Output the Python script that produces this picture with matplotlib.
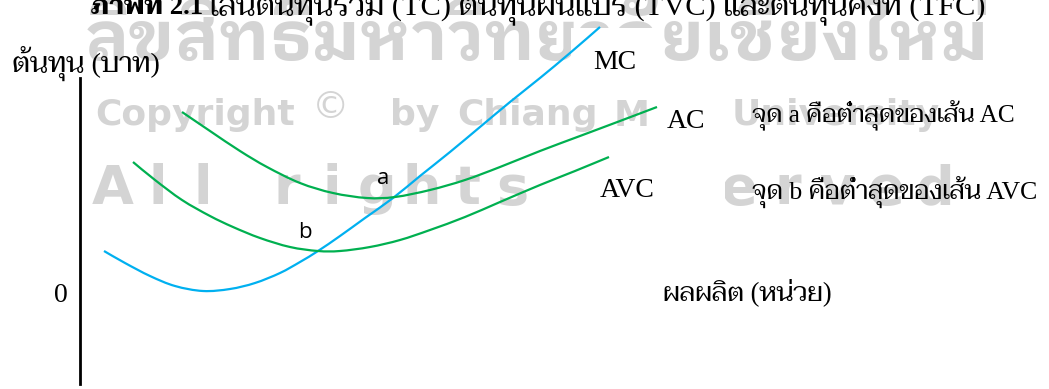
import matplotlib
matplotlib.use("Agg")
import matplotlib.pyplot as plt
from matplotlib.path import Path
from matplotlib.patches import PathPatch, Rectangle

W, H = 1049, 389

# curve readings: output quantity vs cost
mc_q = [0.48, 0.90, 1.40, 1.90, 2.46, 3.00, 3.50, 4.00, 4.40, 4.76, 5.20, 5.70,
        6.26, 6.80, 7.40, 8.00, 8.60, 9.20, 9.80, 10.40]
mc_c = [0.82, 0.58, 0.32, 0.12, 0.02, 0.06, 0.18, 0.38, 0.60, 0.82, 1.12, 1.48,
        1.88, 2.32, 2.80, 3.30, 3.80, 4.28, 4.78, 5.30]

ac_q = [2.04, 2.60, 3.20, 3.74, 4.40, 5.06, 5.74, 6.30, 7.00, 7.70, 8.40, 9.20,
        10.00, 10.80, 11.54]
ac_c = [3.60, 3.22, 2.82, 2.50, 2.18, 1.98, 1.88, 1.90, 2.04, 2.24, 2.50, 2.82,
        3.12, 3.42, 3.70]

avc_q = [1.06, 1.50, 2.04, 2.60, 3.06, 3.60, 4.20, 4.76, 5.20, 5.80, 6.40, 7.00,
         7.70, 8.40, 9.20, 9.90, 10.58]
avc_c = [2.60, 2.24, 1.84, 1.52, 1.30, 1.08, 0.90, 0.82, 0.82, 0.90, 1.04, 1.24,
         1.50, 1.80, 2.14, 2.42, 2.70]

# point a = minimum of AC, point b = minimum of AVC (where MC crosses them)
pt_a = (6.26, 1.88)
pt_b = (4.76, 0.82)

curve_names = ["MC", "AC", "AVC"]
notes = ["จุด a คือต่ำสุดของเส้น AC", "จุด b คือต่ำสุดของเส้น AVC"]
y_title = "ต้นทุน (บาท)"
x_title = "ผลผลิต (หน่วย)"
caption_head = "ภาพที่ 2.1"
caption_body = "เส้นต้นทุนรวม (TC) ต้นทุนผันแปร (TVC) และต้นทุนคงที่ (TFC)"
wm_thai = "ลิขสิทธิ์มหาวิทยาลัยเชียงใหม่"
wm_words = ["Copyright", "©", "by", "Chiang", "Mai", "University"]
wm_rights = ["All", "rights", "reserved"]

serif = ["Liberation Serif", "Taviraj", "Trirong", "DejaVu Serif"]
blue = "#00b0f0"
green = "#00b050"
wm_grey = "#d4d4d4"

fig = plt.figure(figsize=(W / 100, H / 100), dpi=100)
fig.patch.set_facecolor("white")


def fx(px):
    return px / W


def fy(py):
    return 1 - py / H


def fit_width(t, target):
    r = fig.canvas.get_renderer()
    w = t.get_window_extent(r).width
    t.set_fontsize(t.get_fontsize() * target / w)


def smooth_path(xs, ys):
    # Catmull-Rom through the read points, drawn as cubic Bezier pieces
    pts = list(zip(xs, ys))
    verts = [pts[0]]
    codes = [Path.MOVETO]
    n = len(pts)
    for i in range(n - 1):
        p0 = pts[max(i - 1, 0)]
        p1 = pts[i]
        p2 = pts[i + 1]
        p3 = pts[min(i + 2, n - 1)]
        c1 = (p1[0] + (p2[0] - p0[0]) / 6, p1[1] + (p2[1] - p0[1]) / 6)
        c2 = (p2[0] - (p3[0] - p1[0]) / 6, p2[1] - (p3[1] - p1[1]) / 6)
        verts += [c1, c2, p2]
        codes += [Path.CURVE4] * 3
    return Path(verts, codes)


# watermark behind everything
wm1 = fig.text(fx(85), fy(60), wm_thai,
               family=["IBM Plex Sans Thai Looped", "Sarabun", "DejaVu Sans"],
               weight="bold", fontsize=40, color=wm_grey, zorder=-5)
fit_width(wm1, 905)

word_x = [95, 312, 390, 457, 614, 732]
for word, x in zip(wm_words, word_x):
    if word == "©":
        fig.text(fx(x), fy(118), word, family="DejaVu Sans", fontsize=27,
                 color=wm_grey, zorder=-5)
    else:
        fig.text(fx(x), fy(125), word, family="DejaVu Sans", weight="bold",
                 fontsize=26, color=wm_grey, zorder=-5)

letter_start = [113, 287, 592]
letter_step = [45, 45, 49]
for word, x0, step in zip(wm_rights, letter_start, letter_step):
    for k, ch in enumerate(word):
        fig.text(fx(x0 + k * step), fy(204), ch, family="DejaVu Sans",
                 weight="bold", fontsize=39, color=wm_grey, ha="center",
                 zorder=-5)

# caption line, mostly cut off by the top edge
cap1 = fig.text(fx(91), fy(14), caption_head, family=serif, weight="bold",
                fontsize=20, color="black")
cap2 = fig.text(fx(210), fy(14), caption_body, family=serif, fontsize=20,
                color="black")
fit_width(cap1, 112)
fit_width(cap2, 776)

ax = fig.add_axes([fx(80), 0, 1 - fx(80), 1])
ax.set_xlim(0, (W - 80) / 50)
ax.set_ylim(-(H - 292) / 50, 292 / 50)
ax.patch.set_alpha(0)
for side in ["top", "right", "bottom"]:
    ax.spines[side].set_visible(False)
ax.spines["left"].set_linewidth(2)
ax.spines["left"].set_bounds(-(384 - 292) / 50, (292 - 78) / 50)
ax.set_xticks([])
ax.set_yticks([0])
ax.set_yticklabels(["0"], family=serif, fontsize=20)
ax.tick_params(axis="y", length=0, pad=9)

for xs, ys, col in [(mc_q, mc_c, blue), (ac_q, ac_c, green), (avc_q, avc_c, green)]:
    ax.add_patch(PathPatch(smooth_path(xs, ys), fill=False, edgecolor=col,
                           lw=1.6, capstyle="butt", clip_on=False, zorder=3))

# white label boxes sit over the watermark but under the curves
ax.text(10.70, 4.58, curve_names[0], family=serif, fontsize=20, zorder=2,
        ha="center", va="center",
        bbox=dict(boxstyle="square,pad=0.8", facecolor="white", edgecolor="none"))
ax.text(12.12, 3.40, curve_names[1], family=serif, fontsize=20, zorder=2,
        ha="center", va="center",
        bbox=dict(boxstyle="square,pad=0.6", facecolor="white", edgecolor="none"))
ax.add_patch(Rectangle((9.0, 1.34), 3.9, 1.46, facecolor="white",
                       edgecolor="none", zorder=1.5))
ax.text(10.94, 2.02, curve_names[2], family=serif, fontsize=20, zorder=2,
        ha="center", va="center")

ax.text(pt_a[0] - 0.2, pt_a[1] + 0.4, "a", family=["Open Sans", "DejaVu Sans"],
        fontsize=16, ha="center", va="center")
ax.text(pt_b[0] - 0.26, pt_b[1] + 0.36, "b", family=["Open Sans", "DejaVu Sans"],
        fontsize=16, ha="center", va="center")

n1 = ax.text(13.44, 3.52, notes[0], family=serif, fontsize=20, va="center")
n2 = ax.text(13.44, 1.98, notes[1], family=serif, fontsize=20, va="center")
xl = ax.text(11.66, 0.0, x_title, family=serif, fontsize=20, va="center")
yl = fig.text(fx(12), fy(63), y_title, family=serif, fontsize=20, va="center")

fit_width(n1, 263)
fit_width(n2, 285)
fit_width(xl, 169)
fit_width(yl, 148)

fig.savefig("out.png", dpi=100)
